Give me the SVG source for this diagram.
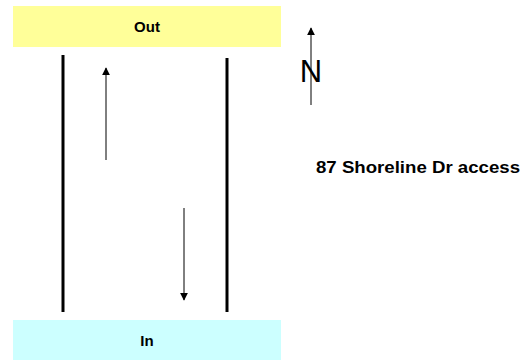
<svg xmlns="http://www.w3.org/2000/svg" width="527" height="360" viewBox="0 0 527 360">
  <style>
    .label { font-family: "Liberation Sans", Arial, sans-serif; font-weight: bold; fill: #000; }
    .road { stroke: #000; stroke-width: 3; fill: none; }
    .flow { stroke: #000; stroke-width: 1; fill: none; }
  </style>
  <defs>
    <marker id="head" viewBox="0 0 10 10" refX="9" refY="5" markerWidth="8" markerHeight="8" orient="auto" markerUnits="userSpaceOnUse">
      <path d="M0,0 L10,5 L0,10 z" fill="#000"/>
    </marker>
  </defs>
  <rect width="527" height="360" fill="#fff"/>

  <g id="out">
    <rect x="13" y="6" width="268" height="41" fill="#FFFF99"/>
    <text class="label" x="147" y="32" font-size="15" text-anchor="middle">Out</text>
  </g>

  <g id="in">
    <rect x="13" y="320" width="268" height="40" fill="#CCFFFF"/>
    <text class="label" x="147" y="346" font-size="15" text-anchor="middle">In</text>
  </g>

  <g id="roadway">
    <line class="road" x1="63" y1="55" x2="63" y2="312"/>
    <line class="road" x1="227" y1="58" x2="227" y2="312"/>
  </g>

  <g id="connectors">
    <line class="flow" x1="106" y1="160" x2="106" y2="68" marker-end="url(#head)"/>
    <line class="flow" x1="184" y1="208" x2="184" y2="300" marker-end="url(#head)"/>
  </g>

  <g id="north">
    <line class="flow" x1="311" y1="105" x2="311" y2="28" marker-end="url(#head)"/>
    <text x="311" y="82" font-family="Liberation Sans, Arial, sans-serif" font-size="31" text-anchor="middle" fill="#000">N</text>
  </g>

  <g id="site-label">
    <text class="label" x="316" y="173" font-size="16" textLength="204" lengthAdjust="spacingAndGlyphs">87 Shoreline Dr access</text>
  </g>
</svg>
